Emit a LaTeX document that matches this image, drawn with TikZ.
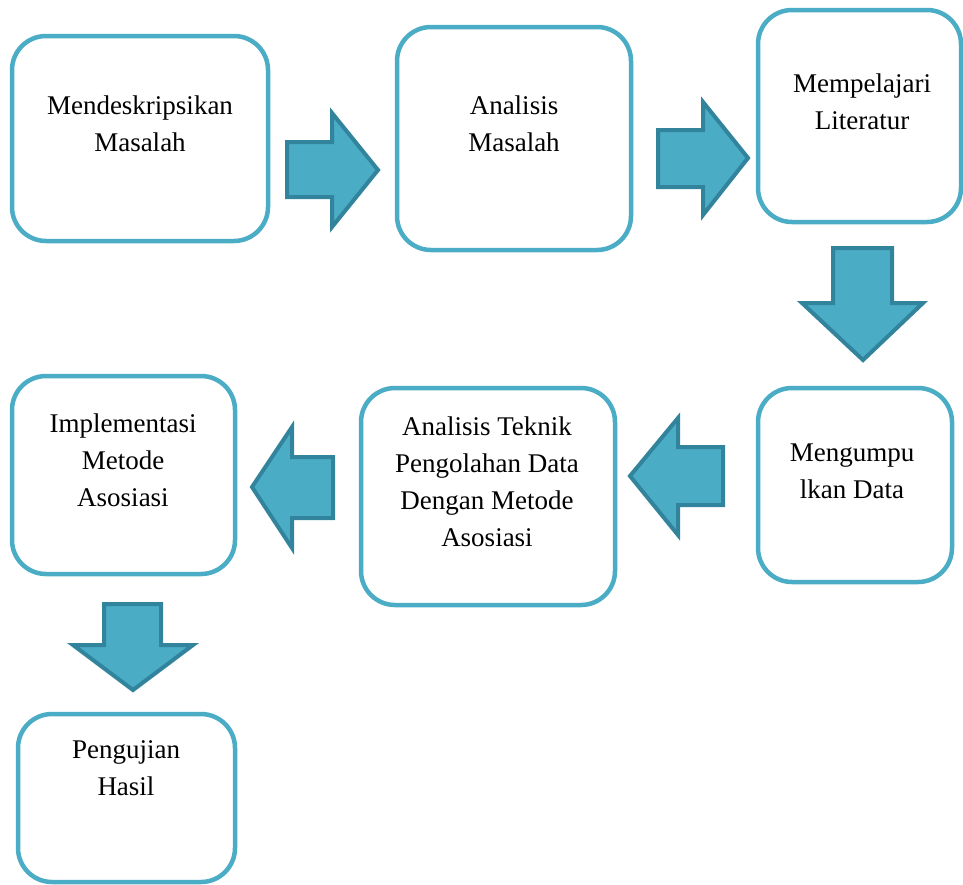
\documentclass[tikz,border=0pt]{standalone}
\usepackage{fontspec}
\setmainfont{Liberation Serif}
\usepackage{xcolor}
\usetikzlibrary{positioning}
\definecolor{boxline}{HTML}{4BACC6}
\definecolor{arrowfill}{HTML}{4BACC6}
\definecolor{arrowline}{HTML}{31849B}

\begin{document}
\begin{tikzpicture}[x=1pt,y=-1pt,
  stepbox/.style={draw=boxline, line width=4.5pt, rounded corners=34pt, fill=white},
  steptext/.style={align=center, font=\fontsize{27}{37}\selectfont},
  blockarrow/.style={fill=arrowfill, draw=arrowline, line width=4pt, line join=miter}]
\useasboundingbox (0,0) rectangle (963,884);
% boxes
\node (b1) [stepbox, minimum width=256pt, minimum height=205pt] at (140,138.5) {};
\node (b2) [stepbox, minimum width=234pt, minimum height=223pt] at (514,138.5) {};
\node (b3) [stepbox, minimum width=203pt, minimum height=212pt] at (859.5,116) {};
\node (b4) [stepbox, minimum width=194pt, minimum height=194pt] at (855,485) {};
\node (b5) [stepbox, minimum width=254pt, minimum height=217pt] at (488,496.5) {};
\node (b6) [stepbox, minimum width=223pt, minimum height=198pt] at (123.5,475) {};
\node (b7) [stepbox, minimum width=217pt, minimum height=168pt] at (126.5,798) {};
% texts
\node (t1) [steptext] at (140,124) {Mendeskripsikan\\Masalah};
\node (t2) [steptext] at (514,124) {Analisis\\Masalah};
\node (t3) [steptext] at (862,102) {Mempelajari\\Literatur};
\node (t4) [steptext] at (852,471) {Mengumpu\\lkan Data};
\node (t5) [steptext] at (487,482) {Analisis Teknik\\Pengolahan Data\\Dengan Metode\\Asosiasi};
\node (t6) [steptext] at (123,460) {Implementasi\\Metode\\Asosiasi};
\node (t7) [steptext] at (126,768) {Pengujian\\Hasil};
% block arrows
\draw[blockarrow] (287,142) -- (332,142) -- (332,113) -- (378,170) -- (332,227) -- (332,197) -- (287,197) -- cycle;
\draw[blockarrow] (658,130) -- (703,130) -- (703,102) -- (748,158) -- (703,215) -- (703,187) -- (658,187) -- cycle;
\draw[blockarrow] (833,248) -- (892,248) -- (892,303) -- (923,303) -- (863,360) -- (802,303) -- (833,303) -- cycle;
\draw[blockarrow] (723,447) -- (678,447) -- (678,418) -- (630,476) -- (678,535) -- (678,505) -- (723,505) -- cycle;
\draw[blockarrow] (333,457) -- (292,457) -- (292,427) -- (252,487) -- (292,548) -- (292,518) -- (333,518) -- cycle;
\draw[blockarrow] (104,604) -- (161,604) -- (161,645) -- (193,645) -- (133,690) -- (73,645) -- (104,645) -- cycle;
\end{tikzpicture}
\end{document}
